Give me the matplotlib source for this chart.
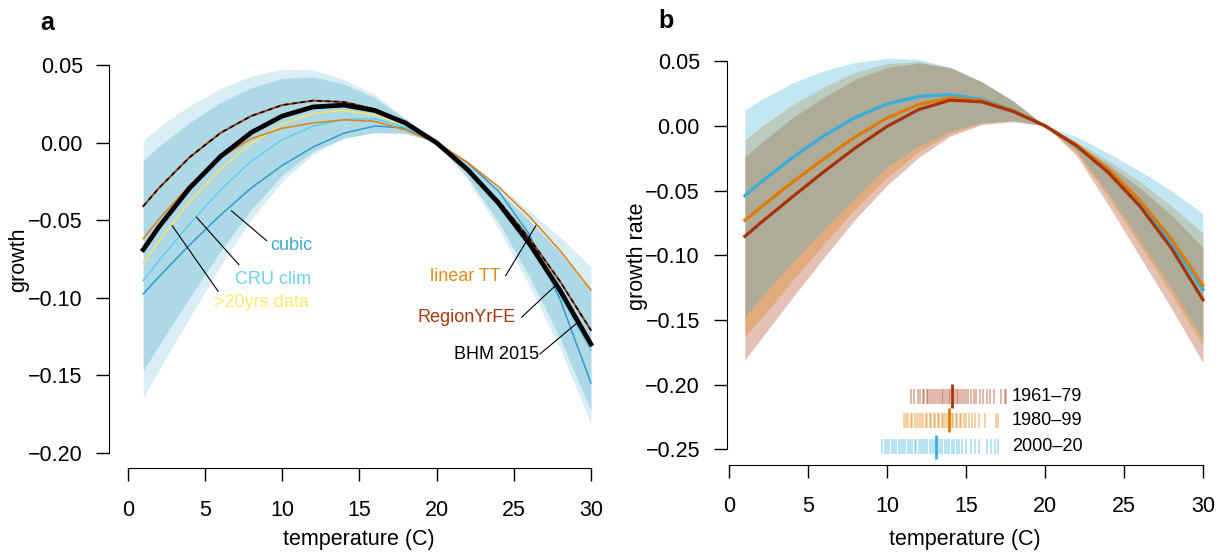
import matplotlib.pyplot as plt

plt.rcParams['font.family'] = ['Liberation Sans', 'DejaVu Sans']

# temperature grid shared by all curves (deg C)
temp = [1, 2, 4, 6, 8, 10, 12, 14, 16, 18, 20, 22, 24, 26, 28, 30]

# ---- panel a: response functions, normalised to 0 at 20C
bhm = [-0.0690, -0.0545, -0.0293, -0.0089, 0.0066, 0.0172, 0.0231, 0.0243, 0.0208, 0.0127, 0.0,
       -0.0172, -0.0388, -0.0649, -0.0953, -0.130]
region_yr_fe = [-0.0410, -0.0294, -0.0094, 0.0063, 0.0173, 0.0243, 0.0272, 0.0263, 0.0217, 0.0129, 0.0,
                -0.0167, -0.0373, -0.0615, -0.0895, -0.121]
linear_tt = [-0.062, -0.0495, -0.0275, -0.0098, 0.0027, 0.0093, 0.0128, 0.0148, 0.0138, 0.0082, 0.0,
             -0.0126, -0.0284, -0.0474, -0.0696, -0.095]
yrs20 = [-0.078, -0.0637, -0.0382, -0.0170, -0.0004, 0.0120, 0.0190, 0.0208, 0.0180, 0.0112, 0.0,
         -0.0165, -0.0378, -0.0638, -0.0940, -0.128]
cru_clim = [-0.089, -0.0763, -0.0525, -0.0305, -0.0118, 0.0020, 0.0107, 0.0150, 0.0155, 0.0098, 0.0,
            -0.0182, -0.0400, -0.0665, -0.0980, -0.134]
cubic = [-0.0976, -0.0867, -0.0660, -0.0467, -0.0292, -0.0147, -0.0028, 0.0062, 0.0108, 0.0095, 0.0,
         -0.0130, -0.0310, -0.0590, -0.1010, -0.155]

# bootstrap bands around BHM
band_out_hi = [0.0015, 0.010, 0.024, 0.035, 0.043, 0.0475, 0.047, 0.041, 0.031, 0.016, 0.0,
               -0.012, -0.027, -0.044, -0.061, -0.080]
band_out_lo = [-0.1645, -0.147, -0.113, -0.0795, -0.0495, -0.025, -0.0075, 0.003, 0.0072, 0.0068, 0.0,
               -0.024, -0.055, -0.092, -0.133, -0.1815]
band_in_hi = [-0.0114, -0.0025, 0.013, 0.026, 0.0355, 0.0415, 0.0425, 0.038, 0.029, 0.015, 0.0,
              -0.014, -0.031, -0.050, -0.071, -0.0955]
band_in_lo = [-0.147, -0.131, -0.100, -0.070, -0.043, -0.021, -0.0055, 0.003, 0.0065, 0.006, 0.0,
              -0.022, -0.051, -0.086, -0.126, -0.173]

# ---- panel b: response by period
periods = ['1961\u201379', '1980\u201399', '2000\u201320']
curve_b = {
    '1961\u201379': [-0.0854, -0.075, -0.055, -0.0355, -0.017, -0.0005, 0.0125, 0.0198, 0.0185, 0.011, 0.0,
                     -0.0155, -0.036, -0.062, -0.0945, -0.1344],
    '1980\u201399': [-0.073, -0.063, -0.0437, -0.0255, -0.0085, 0.0060, 0.0165, 0.0215, 0.0195, 0.0115, 0.0,
                     -0.0148, -0.0335, -0.0575, -0.0875, -0.1233],
    '2000\u201320': [-0.054, -0.0437, -0.0247, -0.0077, 0.0065, 0.0168, 0.0227, 0.0240, 0.0205, 0.0118, 0.0,
                     -0.0155, -0.0355, -0.0605, -0.0905, -0.1266],
}
hi_b = {
    '1961\u201379': [-0.024, -0.0135, 0.006, 0.022, 0.036, 0.045, 0.0485, 0.045, 0.034, 0.019, 0.0,
                     -0.014, -0.030, -0.048, -0.069, -0.094],
    '1980\u201399': [-0.011, -0.001, 0.016, 0.030, 0.0415, 0.048, 0.0495, 0.045, 0.034, 0.019, 0.0,
                     -0.0125, -0.027, -0.043, -0.062, -0.083],
    '2000\u201320': [0.0122, 0.020, 0.033, 0.0425, 0.049, 0.052, 0.0515, 0.045, 0.034, 0.019, 0.0,
                     -0.0085, -0.021, -0.035, -0.050, -0.068],
}
lo_b = {
    '1961\u201379': [-0.181, -0.165, -0.133, -0.102, -0.072, -0.046, -0.0245, -0.008, 0.001, 0.003, 0.0,
                     -0.023, -0.061, -0.101, -0.141, -0.183],
    '1980\u201399': [-0.163, -0.149, -0.120, -0.0915, -0.064, -0.040, -0.020, -0.006, 0.002, 0.004, 0.0,
                     -0.021, -0.055, -0.092, -0.130, -0.170],
    '2000\u201320': [-0.148, -0.133, -0.1055, -0.0805, -0.0555, -0.032, -0.0155, -0.004, 0.0025, 0.004, 0.0,
                     -0.019, -0.052, -0.088, -0.125, -0.165],
}
# country mean temperatures in each period (rug) and their medians
rug = {
    '1961\u201379': [11.5, 11.7, 11.95, 12.1, 12.25, 12.35, 12.5, 12.6, 12.75, 12.85, 13.0, 13.1, 13.2, 13.35,
                     13.45, 13.55, 13.7, 13.8, 13.9, 14.0, 14.2, 14.3, 14.4, 14.5, 14.6, 14.75, 14.85, 15.0,
                     15.1, 15.3, 15.5, 15.65, 15.9, 16.1, 16.3, 16.5, 16.8, 17.2, 17.45, 17.55],
    '1980\u201399': [11.05, 11.2, 11.35, 11.5, 11.6, 11.75, 11.9, 12.0, 12.15, 12.3, 12.45, 12.55, 12.7, 12.8,
                     12.95, 13.05, 13.2, 13.3, 13.45, 13.55, 13.7, 13.8, 14.0, 14.1, 14.2, 14.35, 14.45, 14.6,
                     14.7, 14.85, 15.0, 15.2, 15.4, 15.6, 15.8, 16.2, 16.9, 17.05],
    '2000\u201320': [9.7, 9.85, 10.0, 10.15, 10.3, 10.45, 10.6, 10.75, 10.9, 11.0, 11.15, 11.3, 11.45, 11.6,
                     11.75, 11.85, 12.0, 12.15, 12.3, 12.4, 12.55, 12.7, 12.85, 13.0, 13.2, 13.35, 13.5, 13.65,
                     13.8, 13.95, 14.1, 14.25, 14.4, 14.55, 14.75, 15.0, 15.3, 15.6, 15.8, 16.3, 16.6, 16.85, 17.0],
}
rug_median = {'1961\u201379': 14.1, '1980\u201399': 13.9, '2000\u201320': 13.1}

col_b = {'1961\u201379': '#A8320A', '1980\u201399': '#E07B00', '2000\u201320': '#36B0D8'}
rug_row = {'1961\u201379': -0.209, '1980\u201399': -0.2275, '2000\u201320': -0.248}

W, H = 1224, 554
fig = plt.figure(figsize=(W / 100, H / 100), dpi=100)


def px_axes(l, r, t, b):
    return fig.add_axes([l / W, 1 - b / H, (r - l) / W, (b - t) / H])


def r_style(ax, xt, yt, xpad):
    for s in ['top', 'right']:
        ax.spines[s].set_visible(False)
    ax.spines['left'].set_bounds(yt[0], yt[-1])
    ax.spines['bottom'].set_bounds(xt[0], xt[-1])
    ax.set_xticks(xt)
    ax.set_yticks(yt)
    ax.set_yticklabels([f'{v:.2f}'.replace('-', '\u2212') for v in yt])
    ax.tick_params(direction='out', length=9.6, width=1, labelsize=15.5)
    ax.tick_params(axis='y', pad=9.5)
    ax.tick_params(axis='x', pad=xpad)
    ax.patch.set_alpha(0)


# ---------------- panel a
ax1 = px_axes(109.3, 609.4, 49.8, 468)
ax1.set_xlim(-1.2, 31.2)
ax1.set_ylim(-0.21, 0.06)
r_style(ax1, [0, 5, 10, 15, 20, 25, 30], [-0.20, -0.15, -0.10, -0.05, 0.00, 0.05], 13.5)

ax1.fill_between(temp, band_out_lo, band_out_hi, color='#D9EDF4', lw=0)
ax1.fill_between(temp, band_in_lo, band_in_hi, color='#ADD8E6', lw=0)
ax1.plot(temp, cubic, color='#2E9CCF', lw=1.1)
ax1.plot(temp, cru_clim, color='#5DCDEB', lw=1.1)
ax1.plot(temp, yrs20, color='#F8E36A', lw=1.1)
ax1.plot(temp, linear_tt, color='#E0800F', lw=1.1)
ax1.plot(temp, region_yr_fe, color='#A33A0F', lw=1.4)
ax1.plot(temp, region_yr_fe, color='black', lw=1.1, ls=(0, (3, 2.5)))
ax1.plot(temp, bhm, color='black', lw=3.4)

labels_a = [
    ('cubic', '#3AAAD8', (6.72, -0.044), (8.99, -0.0632), (9.21, -0.0664), 'left'),
    ('CRU clim', '#6ED0EE', (4.45, -0.0481), (7.19, -0.0787), (11.9, -0.0884), 'right'),
    ('>20yrs data', '#FFE873', (2.87, -0.0535), (5.85, -0.0959), (11.69, -0.1034), 'right'),
    ('linear TT', '#E38A1D', (26.44, -0.0535), (24.48, -0.0858), (24.15, -0.0862), 'right'),
    ('RegionYrFE', '#A8380E', (27.73, -0.092), (25.51, -0.1127), (25.15, -0.1131), 'right'),
    ('BHM 2015', 'black', (29.08, -0.1166), (26.7, -0.1364), (26.66, -0.1369), 'right'),
]
for txt, c, p0, p1, ptxt, ha in labels_a:
    ax1.plot([p0[0], p1[0]], [p0[1], p1[1]], color='black', lw=0.8)
    ax1.text(ptxt[0], ptxt[1], txt, color=c, fontsize=13, ha=ha, va='center')

# ---------------- panel b
ax2 = px_axes(726.5, 1221.3, 45.5, 465)
ax2.set_xlim(-0.16, 31.16)
ax2.set_ylim(-0.262, 0.062)
r_style(ax2, [0, 5, 10, 15, 20, 25, 30], [-0.25, -0.20, -0.15, -0.10, -0.05, 0.00, 0.05], 13)

for p in periods:
    ax2.fill_between(temp, lo_b[p], hi_b[p], color=col_b[p], alpha=0.3, lw=0)
for p in periods[::-1]:
    ax2.plot(temp, curve_b[p], color=col_b[p], lw=2.3)

for p in periods:
    y0 = rug_row[p]
    ax2.vlines(rug[p], y0 - 0.0058, y0 + 0.0058, color=col_b[p], alpha=0.45, lw=1.1)
    ax2.vlines(rug_median[p], y0 - 0.0093, y0 + 0.0093, color=col_b[p], lw=2.0)
    ax2.text(17.9, y0, p, fontsize=13, ha='left', va='center')

# labels
fig.text(47 / W, 1 - 23 / H, 'a', fontsize=18, fontweight='bold', ha='center', va='center')
fig.text(666 / W, 1 - 21 / H, 'b', fontsize=18, fontweight='bold', ha='center', va='center')
fig.text(19 / W, 1 - 260 / H, 'growth', fontsize=15.5, rotation=90, ha='center', va='center')
fig.text(637 / W, 1 - 256 / H, 'growth rate', fontsize=15.5, rotation=90, ha='center', va='center')
fig.text(359 / W, 1 - 540 / H, 'temperature (C)', fontsize=15.5, ha='center', va='center')
fig.text(965 / W, 1 - 540 / H, 'temperature (C)', fontsize=15.5, ha='center', va='center')

fig.savefig('out.png', dpi=100)
